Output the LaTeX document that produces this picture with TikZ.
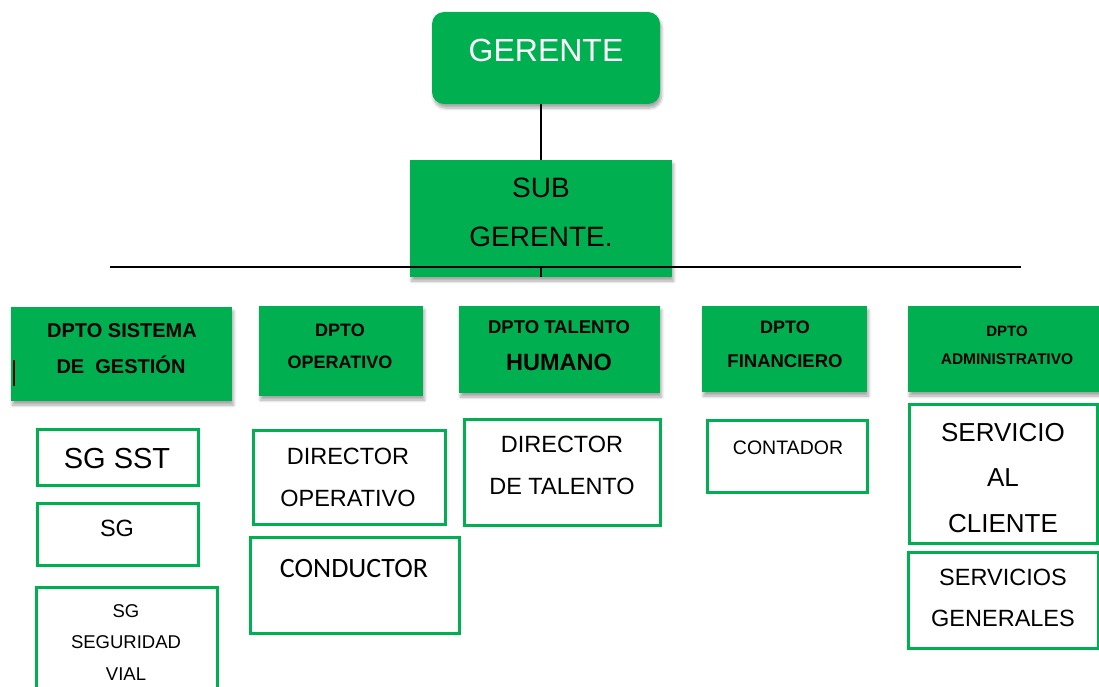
\documentclass[tikz,border=0pt]{standalone}
\usepackage{fontspec}
\setmainfont{Liberation Sans}
\newfontfamily\carlito{Carlito}
\usetikzlibrary{shadows.blur}
\definecolor{gr}{HTML}{00B050}
\newcommand\fsz[1]{\fontsize{#1}{#1}\selectfont}
\tikzset{
  shd/.style={blur shadow={shadow blur steps=6, shadow blur radius=3pt, shadow xshift=1.5pt, shadow yshift=-4pt, shadow opacity=35}},
  gbox/.style={fill=gr, draw=none, inner sep=0, shd},
  wbox/.style={fill=white, draw=gr, line width=3pt, inner sep=0},
  txt/.style={anchor=base, inner sep=0, text=black},
  conn/.style={line width=2.2pt, black}
}
\begin{document}
\begin{tikzpicture}[x=1pt,y=-1pt]
\useasboundingbox (0,0) rectangle (1099,687);
% top
\node[gbox, rounded corners=12pt, minimum width=228pt, minimum height=92pt] (ger) at (546,58) {};
\node[txt, text=white, font=\fsz{32}] (tger) at (546,62) {GERENTE};
\node[gbox, minimum width=262pt, minimum height=117pt] (sub) at (541,218.5) {};
\node[txt, font=\fsz{28}] (tsub1) at (541,197) {SUB};
\node[txt, font=\fsz{28}] (tsub2) at (541,246) {GERENTE.};
\coordinate (gs) at (541,104);
\coordinate (st) at (541,160);
\draw[conn] (gs) -- (st);
\coordinate (hl) at (110,267);
\coordinate (hr) at (1021,267);
\coordinate (hm) at (541,267);
\coordinate (sb) at (541,277);
\draw[conn] (hl) -- (hr);
\draw[conn] (hm) -- (sb);
% departments
\node[gbox, minimum width=221pt, minimum height=94pt] (d1) at (121.5,354) {};
\node[txt, font=\bfseries\fsz{20}] (d1a) at (122,337) {DPTO SISTEMA};
\node[txt, font=\bfseries\fsz{20}] (d1b) at (121,373) {DE\ \ GESTIÓN};
\draw[line width=1.2pt] (14,360) -- (14,386);
\node[gbox, minimum width=164pt, minimum height=90pt] (d2) at (341,351) {};
\node[txt, font=\bfseries\fsz{18}] (d2a) at (340,336) {DPTO};
\node[txt, font=\bfseries\fsz{18}] (d2b) at (340,368) {OPERATIVO};
\node[gbox, minimum width=201pt, minimum height=87pt] (d3) at (559.5,349.5) {};
\node[txt, font=\bfseries\fsz{18.5}] (d3a) at (559,333) {DPTO TALENTO};
\node[txt, font=\bfseries\fsz{23.5}] (d3b) at (559,370) {HUMANO};
\node[gbox, minimum width=165pt, minimum height=86pt] (d4) at (784.5,349) {};
\node[txt, font=\bfseries\fsz{18}] (d4a) at (785,333) {DPTO};
\node[txt, font=\bfseries\fsz{18.5}] (d4b) at (785,367) {FINANCIERO};
\node[gbox, minimum width=200pt, minimum height=86pt] (d5) at (1008,349) {};
\node[txt, font=\bfseries\fsz{15}] (d5a) at (1007,336) {DPTO};
\node[txt, font=\bfseries\fsz{15.5}] (d5b) at (1007,364) {ADMINISTRATIVO};
% column 1
\node[wbox, minimum width=161pt, minimum height=56pt] (c1a) at (117.5,457) {};
\node[txt, font=\fsz{29}] (tc1a) at (117,468) {SG SST};
\node[wbox, minimum width=161pt, minimum height=62pt] (c1b) at (117.5,534) {};
\node[txt, font=\fsz{23.5}] (tc1b) at (117,536) {SG};
\node[wbox, minimum width=181pt, minimum height=120pt] (c1c) at (126.5,647) {};
\node[txt, font=\fsz{18.5}] (tc1c1) at (126,617) {SG};
\node[txt, font=\fsz{18.5}] (tc1c2) at (126,648) {SEGURIDAD};
\node[txt, font=\fsz{18.5}] (tc1c3) at (126,680) {VIAL};
% column 2
\node[wbox, minimum width=192pt, minimum height=94pt] (c2a) at (349,477) {};
\node[txt, font=\fsz{23.5}] (tc2a1) at (348,464) {DIRECTOR};
\node[txt, font=\fsz{23.5}] (tc2a2) at (348,506) {OPERATIVO};
\node[wbox, minimum width=209pt, minimum height=96pt] (c2b) at (354.5,585) {};
\node[txt, font=\carlito\fsz{28}] (tc2b) at (354,577) {CONDUCTOR};
% column 3
\node[wbox, minimum width=196pt, minimum height=106pt] (c3a) at (562,472) {};
\node[txt, font=\fsz{23.5}] (tc3a1) at (562,452) {DIRECTOR};
\node[txt, font=\fsz{23.5}] (tc3a2) at (562,494) {DE TALENTO};
% column 4
\node[wbox, minimum width=160pt, minimum height=72pt] (c4a) at (787,456) {};
\node[txt, font=\fsz{19.5}] (tc4a) at (788,454) {CONTADOR};
% column 5
\node[wbox, minimum width=188pt, minimum height=139pt] (c5a) at (1003,473.5) {};
\node[txt, font=\fsz{26}] (tc5a1) at (1003,441) {SERVICIO};
\node[txt, font=\fsz{26}] (tc5a2) at (1003,486) {AL};
\node[txt, font=\fsz{26}] (tc5a3) at (1003,532) {CLIENTE};
\node[wbox, minimum width=190pt, minimum height=96pt] (c5b) at (1003,600) {};
\node[txt, font=\fsz{23.5}] (tc5b1) at (1003,585) {SERVICIOS};
\node[txt, font=\fsz{23.5}] (tc5b2) at (1003,626) {GENERALES};
\end{tikzpicture}
\end{document}
